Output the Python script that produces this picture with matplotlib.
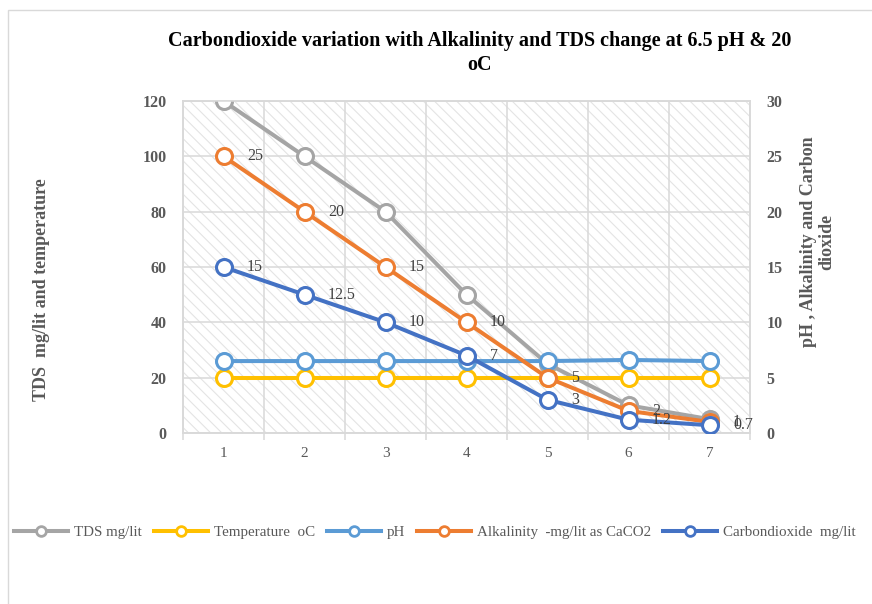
import matplotlib

matplotlib.use("Agg")
import matplotlib.pyplot as plt
from matplotlib.lines import Line2D
from matplotlib.patches import Rectangle

plt.rcParams.update(
    {
        "font.family": "serif",
        "font.serif": ["Liberation Serif", "DejaVu Serif"],
        "hatch.linewidth": 0.8,
    }
)

# ---------- data ----------
samples = [1, 2, 3, 4, 5, 6, 7]
tds = [120, 100, 80, 50, 25, 10, 5]
temperature = [20, 20, 20, 20, 20, 20, 20]
ph = [6.5, 6.5, 6.5, 6.5, 6.5, 6.6, 6.5]
alkalinity = [25, 20, 15, 10, 5, 2, 1]
co2 = [15, 12.5, 10, 7, 3, 1.2, 0.7]

left_ticks = [0, 20, 40, 60, 80, 100, 120]
right_ticks = [0, 5, 10, 15, 20, 25, 30]

C_TDS = "#A5A5A5"
C_TEMP = "#FFC000"
C_PH = "#5B9BD5"
C_ALK = "#ED7D31"
C_CO2 = "#4472C4"
GRID = "#D9D9D9"
TXT = "#595959"

W, H = 872, 604
fig = plt.figure(figsize=(W / 100, H / 100), dpi=100)
ax = fig.add_axes([183 / W, 1 - 433 / H, 567 / W, 332 / H])
ax2 = ax.twinx()

# patterned plot area
ax.patch.set_visible(False)
ax.add_patch(
    Rectangle((0, 0), 1, 1, transform=ax.transAxes, facecolor="white",
              edgecolor="#E4E4E4", hatch="\\\\\\", linewidth=0, zorder=0)
)

line_kw = dict(linewidth=2.9, marker="o", markersize=11.5,
               markerfacecolor="white", markeredgewidth=2.2, zorder=3)

ax.plot(samples, tds, color=C_TDS, label="TDS mg/lit", **line_kw)
ax.plot(samples, temperature, color=C_TEMP, label="Temperature  oC", **line_kw)
ax2.plot(samples, ph, color=C_PH, label="pH", **line_kw)
ax2.plot(samples, alkalinity, color=C_ALK, label="Alkalinity  -mg/lit as CaCO2", **line_kw)
ax2.plot(samples, co2, color=C_CO2, label="Carbondioxide  mg/lit", **line_kw)

for series in (alkalinity, co2):
    for xi, v in zip(samples, series):
        ax2.annotate(f"{v:g}", (xi, v), xytext=(17, 0), textcoords="offset points",
                     ha="left", va="center", fontsize=11.5, color="#404040", zorder=4)

# axes
ax.set_xlim(0.5, 7.5)
ax.set_ylim(0, 120)
ax2.set_ylim(0, 30)
ax.set_yticks(left_ticks)
ax2.set_yticks(right_ticks)
ax.set_xticks(samples)
ax.set_xticks([s + 0.5 for s in [0] + samples], minor=True)

ax.grid(axis="y", color=GRID, linewidth=1.1, zorder=1)
ax.grid(axis="x", which="minor", color=GRID, linewidth=1.1, zorder=1)
ax.set_axisbelow(True)

for a in (ax, ax2):
    for sp in a.spines.values():
        sp.set_color(GRID)
        sp.set_linewidth(1.1)

ax.tick_params(axis="x", which="major", length=0, labelsize=11, labelcolor=TXT, pad=10)
ax.tick_params(axis="x", which="minor", length=5, color=GRID, width=1.1)
ax.tick_params(axis="y", length=0, labelsize=11.5, labelcolor=TXT, pad=12)
ax2.tick_params(axis="y", length=0, labelsize=11.5, labelcolor=TXT, pad=12)
for lbl in ax.get_yticklabels() + ax2.get_yticklabels():
    lbl.set_fontweight("bold")

# titles
fig.text(480 / W, 1 - 53 / H, "Carbondioxide variation with Alkalinity and TDS change at 6.5 pH & 20\noC",
         ha="center", va="center", fontsize=14.5, fontweight="bold", linespacing=1.3)
fig.text(42 / W, 1 - 290 / H, "TDS  mg/lit and temperature", rotation=90,
         ha="center", va="center", fontsize=13, fontweight="bold", color=TXT)
fig.text(818 / W, 1 - 242 / H, "pH , Alkalinity and Carbon\ndioxide", rotation=90,
         ha="center", va="center", fontsize=13, fontweight="bold", color=TXT,
         multialignment="center", linespacing=1.1)

# chart border
fig.patches.append(
    Rectangle((8 / W, -0.1), 1.2, 1 - 10 / H + 0.1, transform=fig.transFigure,
              fill=False, edgecolor=GRID, linewidth=1.0)
)

# legend
handles = [
    Line2D([], [], color=c, linewidth=2.9, marker="o", markersize=7,
           markerfacecolor="white", markeredgewidth=2.0)
    for c in (C_TDS, C_TEMP, C_PH, C_ALK, C_CO2)
]
labels = ["TDS mg/lit", "Temperature  oC", "pH", "Alkalinity  -mg/lit as CaCO2",
          "Carbondioxide  mg/lit"]
leg = fig.legend(handles, labels, loc="center left", bbox_to_anchor=(8 / W, 1 - 532 / H),
                 ncol=5, frameon=False, fontsize=10.8, handlelength=3.6,
                 handletextpad=0.4, columnspacing=0.8, borderaxespad=0)
for t in leg.get_texts():
    t.set_color(TXT)

fig.savefig("out.png", dpi=100)
